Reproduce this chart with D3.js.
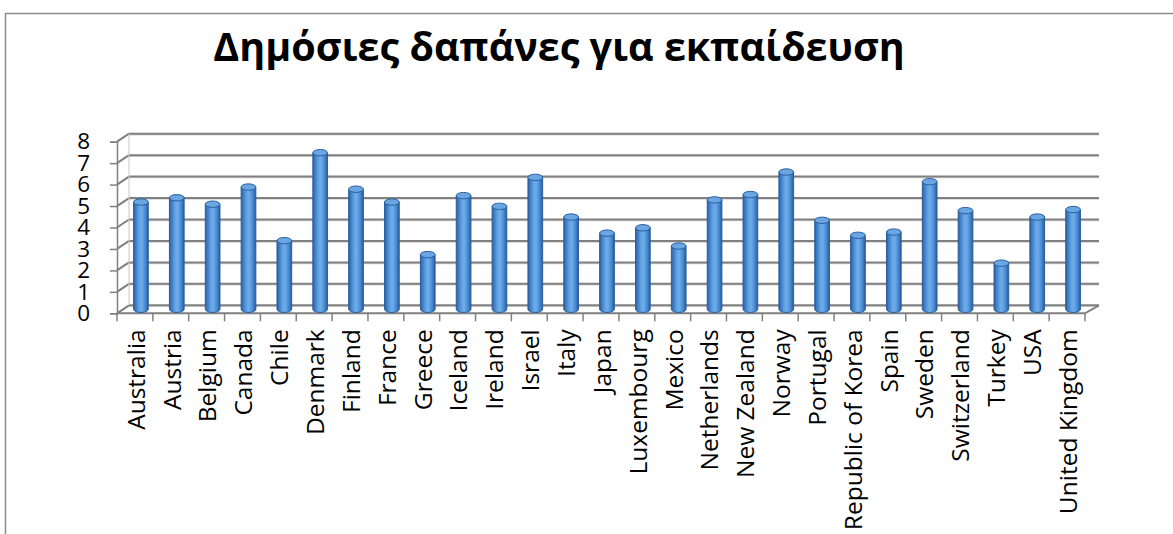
<!DOCTYPE html>
<html>
<head>
<meta charset="utf-8">
<script src="https://cdn.jsdelivr.net/npm/d3@7"></script>
<style>
  body { margin: 0; background: #fff; }
  #chart { width: 1173px; height: 534px; }
  text { font-family: "Open Sans", "Noto Sans", sans-serif; fill: #000; }
</style>
</head>
<body>
<div id="chart"></div>
<script>
//Datos del gráfico
const TITLE = 'Δημόσιες δαπάνες για εκπαίδευση';
const countries = ['Australia', 'Austria', 'Belgium', 'Canada', 'Chile', 'Denmark', 'Finland', 'France',
    'Greece', 'Iceland', 'Ireland', 'Israel', 'Italy', 'Japan', 'Luxembourg', 'Mexico', 'Netherlands',
    'New Zealand', 'Norway', 'Portugal', 'Republic of Korea', 'Spain', 'Sweden', 'Switzerland', 'Turkey',
    'USA', 'United Kingdom'];
const values = [5.0, 5.2, 4.9, 5.7, 3.2, 7.3, 5.6, 5.0,
    2.55, 5.3, 4.8, 6.15, 4.3, 3.55, 3.8, 2.95, 5.1,
    5.35, 6.4, 4.15, 3.45, 3.6, 5.95, 4.6, 2.15,
    4.3, 4.65];
const yTicks = [0, 1, 2, 3, 4, 5, 6, 7, 8];

//Colores
const COLOR_GRID = '#808080',
    COLOR_FRAME = '#8c8c8c',
    COLOR_BAR_EDGE = '#2c5f9f';

const data = countries.map(function(c, i) { return { name: c, value: values[i] }; });

let width = 1173, height = 534;

let svg = d3.select('#chart')
    .append('svg')
    .attr('width', width)
    .attr('height', height);

//Marco
svg.append('rect')
    .attr('x', 5.5).attr('y', 13.5)
    .attr('width', width + 10).attr('height', height + 10)
    .attr('fill', 'none')
    .attr('stroke', COLOR_FRAME)
    .attr('stroke-width', 1.5);

//Título
svg.append('text')
    .attr('x', 559).attr('y', 61)
    .attr('text-anchor', 'middle')
    .style('font-size', '39.5px')
    .style('font-weight', 700)
    .text(TITLE);

//Escalas (plano frontal) + profundidad 3D
const depthX = 12, depthY = -8;

let x = d3.scaleBand()
    .domain(countries)
    .range([117, 1085])
    .padding(0);

let y = d3.scaleLinear()
    .domain([0, 8])
    .range([313.3, 141.7]);

let defs = svg.append('defs');
let grad = defs.append('linearGradient')
    .attr('id', 'cyl')
    .attr('x1', '0%').attr('x2', '100%').attr('y1', '0%').attr('y2', '0%');
[['0%', '#2a5a97'], ['12%', '#3b78c2'], ['40%', '#66a6e4'], ['55%', '#6badea'], ['80%', '#4888d2'], ['100%', '#2a5894']]
    .forEach(function(s) { grad.append('stop').attr('offset', s[0]).attr('stop-color', s[1]); });

let grid = svg.append('g');

//Pared del fondo (líneas de rejilla) y pared lateral
yTicks.forEach(function(t) {
    grid.append('line')
        .attr('x1', x.range()[0] + depthX).attr('x2', x.range()[1] + depthX + 2)
        .attr('y1', y(t) + depthY + 1).attr('y2', y(t) + depthY + 1)
        .attr('stroke', '#d4d4d4').attr('stroke-width', 1.5);
    grid.append('line')
        .attr('x1', x.range()[0] + depthX).attr('x2', x.range()[1] + depthX + 2)
        .attr('y1', y(t) + depthY).attr('y2', y(t) + depthY)
        .attr('stroke', COLOR_GRID).attr('stroke-width', 2);
    grid.append('line')
        .attr('x1', x.range()[0]).attr('x2', x.range()[0] + depthX)
        .attr('y1', y(t)).attr('y2', y(t) + depthY)
        .attr('stroke', COLOR_GRID).attr('stroke-width', 2);
});
grid.append('line')
    .attr('x1', x.range()[0] + depthX).attr('x2', x.range()[0] + depthX)
    .attr('y1', y(0) + depthY).attr('y2', y(8) + depthY)
    .attr('stroke', '#c8c8c8').attr('stroke-width', 1);

//Suelo
grid.append('path')
    .attr('d', 'M' + x.range()[0] + ',' + y(0) +
        'L' + x.range()[1] + ',' + y(0) +
        'L' + (x.range()[1] + depthX + 2) + ',' + (y(0) + depthY))
    .attr('fill', 'none')
    .attr('stroke', COLOR_GRID).attr('stroke-width', 2);

//Eje Y
let yAxis = svg.append('g')
    .attr('transform', 'translate(' + x.range()[0] + ',0)')
    .call(d3.axisLeft(y).tickValues(yTicks).tickSize(7).tickPadding(20));
yAxis.select('.domain').attr('stroke', COLOR_GRID).attr('stroke-width', 1.5);
yAxis.selectAll('.tick line').attr('stroke', COLOR_GRID).attr('stroke-width', 1.5);
yAxis.selectAll('.tick text')
    .style('font-size', '22.5px')
    .style('font-family', '"Open Sans", sans-serif');

//Eje X: marcas en los límites de categoría
let xTickPos = countries.map(function(c) { return x(c); }).concat([x.range()[1]]);
svg.append('g').selectAll('line')
    .data(xTickPos)
    .enter()
    .append('line')
    .attr('x1', function(d) { return d; }).attr('x2', function(d) { return d; })
    .attr('y1', y(0)).attr('y2', y(0) + 8)
    .attr('stroke', COLOR_GRID).attr('stroke-width', 1.5);

let xAxis = svg.append('g')
    .attr('transform', 'translate(0,' + y(0) + ')')
    .call(d3.axisBottom(x).tickSize(0).tickPadding(0));
xAxis.select('.domain').remove();
xAxis.selectAll('.tick text')
    .attr('transform', 'translate(1,16)rotate(-90)')
    .attr('x', 0).attr('y', 0).attr('dy', '0.36em')
    .style('text-anchor', 'end')
    .style('font-size', '24.5px')
    .style('font-family', '"Open Sans", sans-serif');

//Columnas cilíndricas (a media profundidad)
let barW = x.bandwidth() * 0.41, rx = barW / 2, ry = 3.2;

let bars = svg.append('g').selectAll('g')
    .data(data)
    .enter()
    .append('g')
    .attr('class', 'bars');

function cx(d) { return x(d.name) + x.bandwidth() / 2 + depthX / 2; }
function yb() { return y(0) + depthY / 2; }
function yt(d) { return y(d.value) + depthY / 2; }

bars.append('path')
    .attr('d', function(d) {
        let l = cx(d) - rx, r = cx(d) + rx;
        return 'M' + l + ',' + yt(d) +
            'L' + l + ',' + yb() +
            'A' + rx + ',' + ry + ' 0 0 0 ' + r + ',' + yb() +
            'L' + r + ',' + yt(d) + 'Z';
    })
    .attr('fill', 'url(#cyl)')
    .attr('stroke', COLOR_BAR_EDGE)
    .attr('stroke-width', 1);

bars.append('ellipse')
    .attr('cx', cx)
    .attr('cy', yt)
    .attr('rx', rx).attr('ry', ry)
    .attr('fill', '#6aa6e2')
    .attr('stroke', COLOR_BAR_EDGE)
    .attr('stroke-width', 1);
</script>
</body>
</html>
